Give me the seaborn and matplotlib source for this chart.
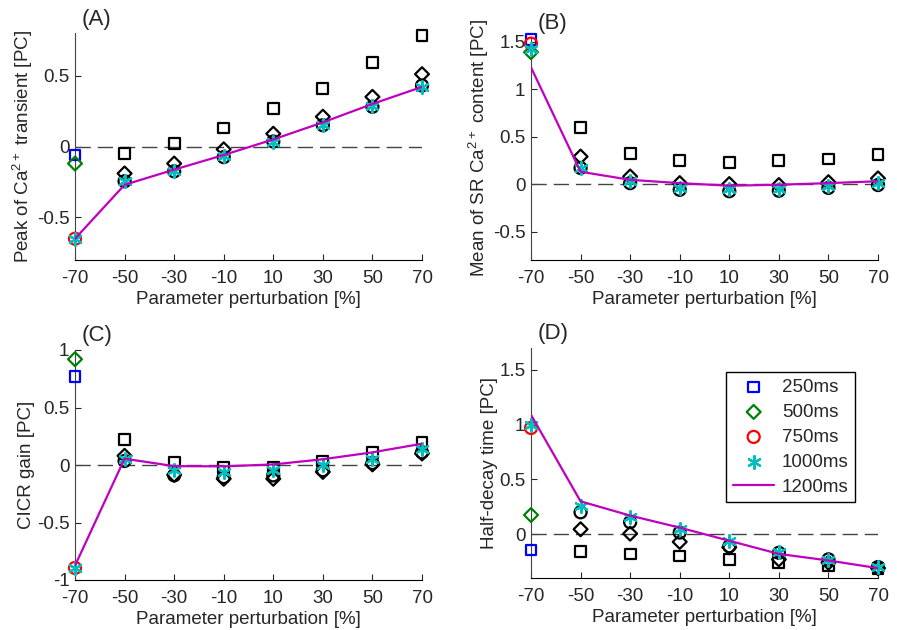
import numpy as np
import pandas as pd
import matplotlib
matplotlib.use('Agg')
import matplotlib.pyplot as plt
import seaborn as sns

# perturbation levels
perturb = [-70, -50, -30, -10, 10, 30, 50, 70]
periods = ['250ms', '500ms', '750ms', '1000ms', '1200ms']

# (A) peak of Ca transient
peak_250 = [-0.06, -0.05, 0.02, 0.13, 0.27, 0.41, 0.59, 0.78]
peak_500 = [-0.12, -0.19, -0.12, -0.02, 0.09, 0.21, 0.35, 0.51]
peak_750 = [-0.65, -0.245, -0.175, -0.075, 0.035, 0.15, 0.28, 0.43]
peak_1000 = [-0.65, -0.245, -0.17, -0.07, 0.035, 0.15, 0.285, 0.42]
peak_1200 = [-0.65, -0.27, -0.163, -0.06, 0.05, 0.17, 0.30, 0.42]

# (B) mean of SR Ca content
sr_250 = [1.52, 0.60, 0.325, 0.245, 0.23, 0.245, 0.265, 0.31]
sr_500 = [1.39, 0.29, 0.08, 0.01, 0.0, -0.01, 0.02, 0.06]
sr_750 = [1.48, 0.17, 0.01, -0.06, -0.075, -0.07, -0.04, -0.01]
sr_1000 = [1.42, 0.17, 0.03, -0.04, -0.05, -0.05, -0.025, 0.01]
sr_1200 = [1.23, 0.13, 0.045, 0.01, -0.017, -0.007, 0.01, 0.03]

# (C) CICR gain
gain_250 = [0.77, 0.22, 0.02, -0.025, -0.02, 0.035, 0.11, 0.20]
gain_500 = [0.92, 0.08, -0.085, -0.12, -0.12, -0.06, 0.005, 0.10]
gain_750 = [-0.895, 0.035, -0.09, -0.105, -0.09, -0.045, 0.017, 0.11]
gain_1000 = [-0.895, 0.055, -0.045, -0.06, -0.045, 0.0, 0.055, 0.14]
gain_1200 = [-0.875, 0.055, -0.01, -0.012, 0.005, 0.05, 0.11, 0.185]

# (D) half-decay time
decay_250 = [-0.145, -0.16, -0.18, -0.20, -0.23, -0.26, -0.29, -0.31]
decay_500 = [0.175, 0.045, 0.005, -0.07, -0.12, -0.23, -0.26, -0.31]
decay_750 = [0.97, 0.20, 0.11, 0.015, -0.11, -0.17, -0.23, -0.30]
decay_1000 = [1.00, 0.26, 0.155, 0.045, -0.06, -0.16, -0.24, -0.30]
decay_1200 = [1.09, 0.30, 0.17, 0.06, -0.06, -0.18, -0.24, -0.31]

sns.set_style('ticks')
plt.rcParams['font.family'] = ['Liberation Sans', 'DejaVu Sans']
plt.rcParams['font.size'] = 13.5
plt.rcParams['axes.unicode_minus'] = False
plt.rcParams['mathtext.fontset'] = 'custom'
plt.rcParams['mathtext.rm'] = 'Liberation Sans'
plt.rcParams['mathtext.default'] = 'regular'

first_colors = ['#0000ff', '#008000', '#ff0000', '#00bfbf']
markers = ['s', 'D', 'o', (6, 2, 0)]
msizes = [60, 50, 75, 85]
cyan = '#00bfbf'
magenta = '#bf00bf'
fs = 13.5

panels = [
    ('(A)', r'Peak of Ca$^{2+}$ transient [PC]',
     [peak_250, peak_500, peak_750, peak_1000, peak_1200],
     (-0.8, 0.8), [-0.5, 0, 0.5], [75, 33, 422, 260]),
    ('(B)', r'Mean of SR Ca$^{2+}$ content [PC]',
     [sr_250, sr_500, sr_750, sr_1000, sr_1200],
     (-0.8, 1.55), [-0.5, 0, 0.5, 1, 1.5], [531, 37, 878, 260]),
    ('(C)', 'CICR gain [PC]',
     [gain_250, gain_500, gain_750, gain_1000, gain_1200],
     (-1, 1), [-1, -0.5, 0, 0.5, 1], [75, 350, 422, 580]),
    ('(D)', 'Half-decay time [PC]',
     [decay_250, decay_500, decay_750, decay_1000, decay_1200],
     (-0.4, 1.7), [0, 0.5, 1, 1.5], [531, 348, 878, 578]),
]

W, H = 897, 630
fig = plt.figure(figsize=(W / 100, H / 100), dpi=100)
pix = matplotlib.transforms.Affine2D().scale(1, -1).translate(0, H)

for tag, ylab, series, ylim, yticks, box in panels:
    l, t, r, b = box
    ax = fig.add_axes([l / W, 1 - b / H, (r - l) / W, (b - t) / H])
    ax.axhline(0, color='#444444', lw=1, ls=(0, (11, 5)), zorder=1)

    for i in range(4):
        df = pd.DataFrame({'x': perturb, 'y': series[i]})
        rest = df.iloc[1:]
        first = df.iloc[:1]
        if i < 3:
            sns.scatterplot(data=rest, x='x', y='y', ax=ax, marker=markers[i],
                            s=msizes[i], facecolor='none', edgecolor='black',
                            linewidth=1.6, zorder=3 + i, legend=False,
                            clip_on=False)
            sns.scatterplot(data=first, x='x', y='y', ax=ax, marker=markers[i],
                            s=msizes[i], facecolor='none', edgecolor=first_colors[i],
                            linewidth=1.6, zorder=3 + i, label=periods[i],
                            clip_on=False)
        else:
            sns.scatterplot(data=rest, x='x', y='y', ax=ax, marker=markers[i],
                            s=msizes[i], color=cyan, linewidth=1.6, zorder=3 + i,
                            legend=False, clip_on=False)
            sns.scatterplot(data=first, x='x', y='y', ax=ax, marker=markers[i],
                            s=msizes[i], color=cyan, linewidth=1.6, zorder=3 + i,
                            label=periods[i], clip_on=False)

    df = pd.DataFrame({'x': perturb, 'y': series[4]})
    sns.lineplot(data=df, x='x', y='y', ax=ax, color=magenta, lw=1.6,
                 zorder=8, label=periods[4])

    ax.set_xlim(-70, 70)
    ax.set_ylim(*ylim)
    ax.set_xticks(perturb)
    ax.set_yticks(yticks)
    ax.yaxis.set_major_formatter(matplotlib.ticker.FormatStrFormatter('%g'))
    ax.tick_params(direction='in', length=4, width=0.8, labelsize=fs)
    ax.tick_params(axis='x', pad=7)
    ax.tick_params(axis='y', pad=4)
    ax.set_xlabel('Parameter perturbation [%]', fontsize=fs, labelpad=3)
    ax.set_ylabel(ylab, fontsize=fs, labelpad=1)
    ax.spines['top'].set_visible(False)
    ax.spines['right'].set_visible(False)
    ax.spines['left'].set_color('#444444')
    ax.spines['bottom'].set_color('black')
    # panel tag placed in figure pixel coordinates
    fig.text(l + 7, t - 14, tag, transform=pix, fontsize=16,
             ha='left', va='center')

    if tag == '(D)':
        leg = ax.legend(loc='upper right', bbox_to_anchor=(0.934, 0.895),
                        borderaxespad=0, frameon=True, fancybox=False,
                        framealpha=1, edgecolor='black', fontsize=fs,
                        labelspacing=0.42, handlelength=2.2, handletextpad=0.4,
                        borderpad=0.35)
        leg.get_frame().set_linewidth(1.0)
    else:
        if ax.get_legend() is not None:
            ax.get_legend().remove()

fig.savefig('out.png', dpi=100)
